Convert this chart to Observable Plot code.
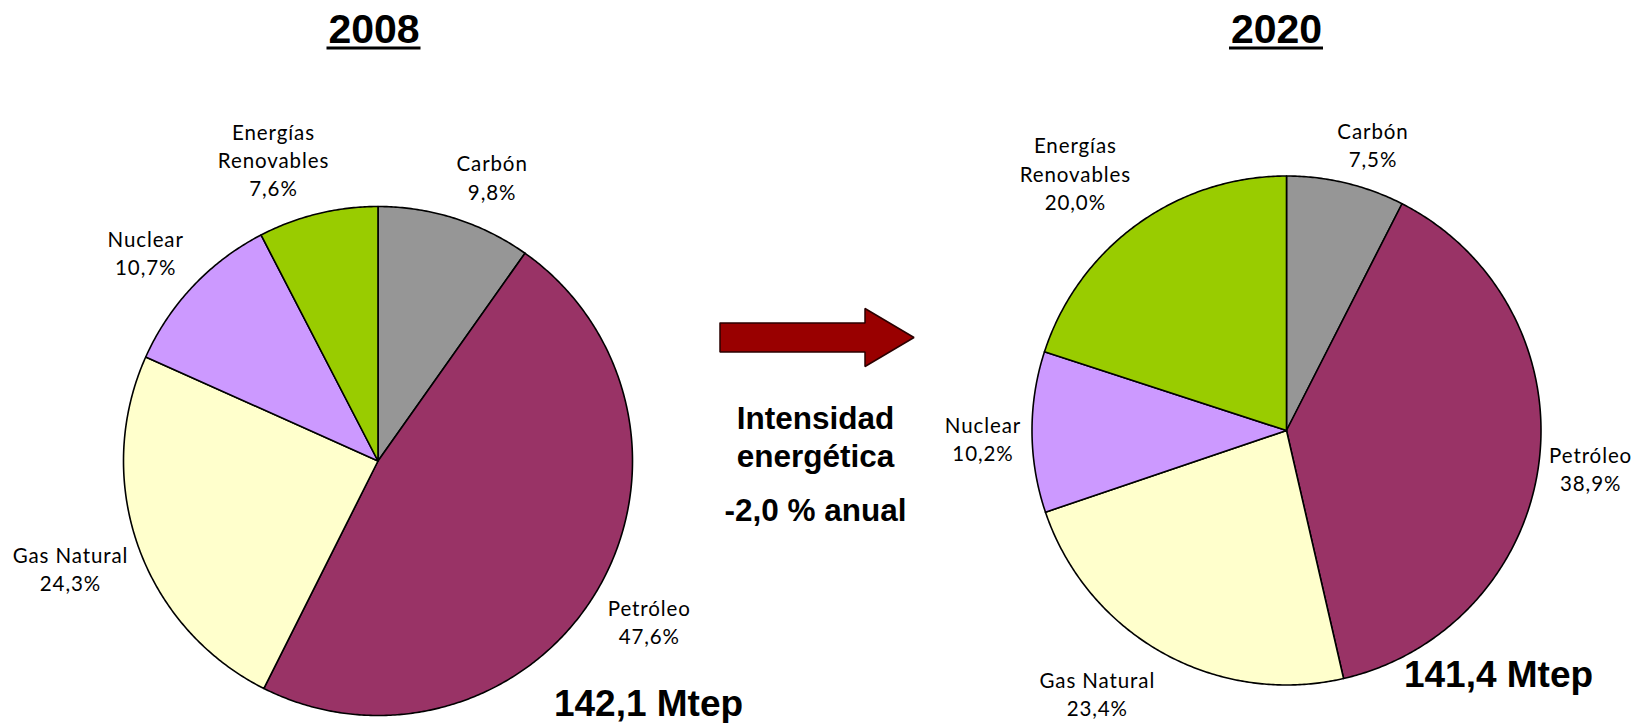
<!DOCTYPE html>
<html><head><meta charset="utf-8">
<script src="https://cdn.jsdelivr.net/npm/d3@7"></script>
<script src="https://cdn.jsdelivr.net/npm/@observablehq/plot@0.6"></script>
<style>
html,body{margin:0;padding:0;background:#fff;}
#chart{width:1636px;height:723px;overflow:hidden;}
</style></head><body><div id="chart"></div>
<script>
// ---- data ----
const categories = ["Carbón", "Petróleo", "Gas Natural", "Nuclear", "Energías Renovables"];
const labelNames = ["Carbón", "Petróleo", "Gas Natural", "Nuclear", "Energías\nRenovables"];
const colors = ["#969696", "#993366", "#FFFFCC", "#CC99FF", "#99CC00"];
const years = ["2008", "2020"];
const shares2008 = [9.8, 47.6, 24.3, 10.7, 7.6];
const shares2020 = [7.5, 38.9, 23.4, 10.2, 20.0];
const totals = ["142,1 Mtep", "141,4 Mtep"];
const middleLines = ["Intensidad", "energética", "-2,0 % anual"];

// ---- layout (pixels) ----
const W = 1636, H = 723;
const pieCX = [377.5, 1286], pieCY = [460.5, 430], pieR = 254.5;
const labelNudge = [[4.2, -0.4, 0.5, -1.4, -5.4], [3.3, 0, 6.6, -1.0, -3.3]];
const labelDist = [[1.205, 1.238, 1.279, 1.228, 1.256], [1.176, 1.204, 1.272, 1.193, 1.31]];
const titleX = [373.5, 1276], titleBaseline = 42, underlineY = 47.5, underlineHalf = 47;
const totalX = [648, 1498], totalBaseline = [715.5, 686.5];
const middleX = 815, middleBaselines = [428.5, 466, 520.5];
const arrow = {x0: 719.5, xh: 864.5, x1: 913.5, yc: 337, bh: 14.5, hh: 29};

const fmt = v => v.toFixed(1).replace(".", ",") + "%";
const seriesByYear = [shares2008, shares2020];

const slicePts = [], labelData = [];
years.forEach((yr, p) => {
  const cx = pieCX[p], cy = pieCY[p], r = pieR;
  const arcs = d3.pie().sort(null).value(d => d)(seriesByYear[p]);
  arcs.forEach((a, i) => {
    const id = yr + "-" + i, cat = categories[i];
    slicePts.push({id, cat, x: cx, y: cy});
    const n = Math.max(2, Math.ceil((a.endAngle - a.startAngle) / (Math.PI / 360)));
    for (let k = 0; k <= n; k++) {
      const t = a.startAngle + (a.endAngle - a.startAngle) * k / n;
      slicePts.push({id, cat, x: cx + r * Math.sin(t), y: cy - r * Math.cos(t)});
    }
    slicePts.push({id, cat, x: cx, y: cy});
    const mid = (a.startAngle + a.endAngle) / 2 + labelNudge[p][i] * Math.PI / 180;
    const d = labelDist[p][i] * r;
    labelData.push({x: cx + d * Math.sin(mid), y: cy - d * Math.cos(mid),
      text: labelNames[i] + "\n" + fmt(seriesByYear[p][i])});
  });
});

const arrowPts = [
  [arrow.x0, arrow.yc - arrow.bh], [arrow.xh, arrow.yc - arrow.bh], [arrow.xh, arrow.yc - arrow.hh],
  [arrow.x1, arrow.yc], [arrow.xh, arrow.yc + arrow.hh], [arrow.xh, arrow.yc + arrow.bh],
  [arrow.x0, arrow.yc + arrow.bh], [arrow.x0, arrow.yc - arrow.bh]
].map(([x, y]) => ({x, y}));

const boldFont = "'Liberation Sans', Arial, sans-serif";
const labelFont = "Lato, 'Open Sans', sans-serif";

const svg = Plot.plot({
  width: W, height: H, margin: 0,
  x: {type: "identity", axis: null}, y: {type: "identity", axis: null},
  color: {domain: categories, range: colors},
  style: {background: "#fff", overflow: "visible"},
  marks: [
    Plot.line(slicePts, {x: "x", y: "y", z: "id", fill: "cat", stroke: "#000", strokeWidth: 1.6, strokeLinejoin: "round", curve: "linear"}),
    Plot.line(arrowPts, {x: "x", y: "y", fill: "#990000", stroke: "#2a0000", strokeWidth: 1.5, strokeLinejoin: "miter", curve: "linear"}),
    Plot.text(labelData, {x: "x", y: "y", text: "text", fontSize: 20.5, fontFamily: labelFont, lineHeight: 1.38, lineAnchor: "middle", textAnchor: "middle", fill: "#000"}),
    Plot.text(years, {x: (d, i) => titleX[i], y: () => titleBaseline, text: d => d, fontSize: 41, fontWeight: "bold", fontFamily: boldFont, lineAnchor: "bottom", textAnchor: "middle", fill: "#000"}),
    Plot.ruleY(years, {y: () => underlineY, x1: (d, i) => titleX[i] - underlineHalf, x2: (d, i) => titleX[i] + underlineHalf, stroke: "#000", strokeWidth: 3.2}),
    Plot.text(totals, {x: (d, i) => totalX[i], y: (d, i) => totalBaseline[i], text: d => d, fontSize: 37, fontWeight: "bold", fontFamily: boldFont, lineAnchor: "bottom", textAnchor: "middle", fill: "#000"}),
    Plot.text(middleLines, {x: () => middleX, y: (d, i) => middleBaselines[i], text: d => d, fontSize: 31.5, fontWeight: "bold", fontFamily: boldFont, lineAnchor: "bottom", textAnchor: "middle", fill: "#000"})
  ]
});
d3.select(svg).selectAll("g").filter(function () {
  return (this.getAttribute("font-family") || "").startsWith("Lato");
}).style("letter-spacing", "0.9px");
document.getElementById("chart").appendChild(svg);
</script></body></html>
